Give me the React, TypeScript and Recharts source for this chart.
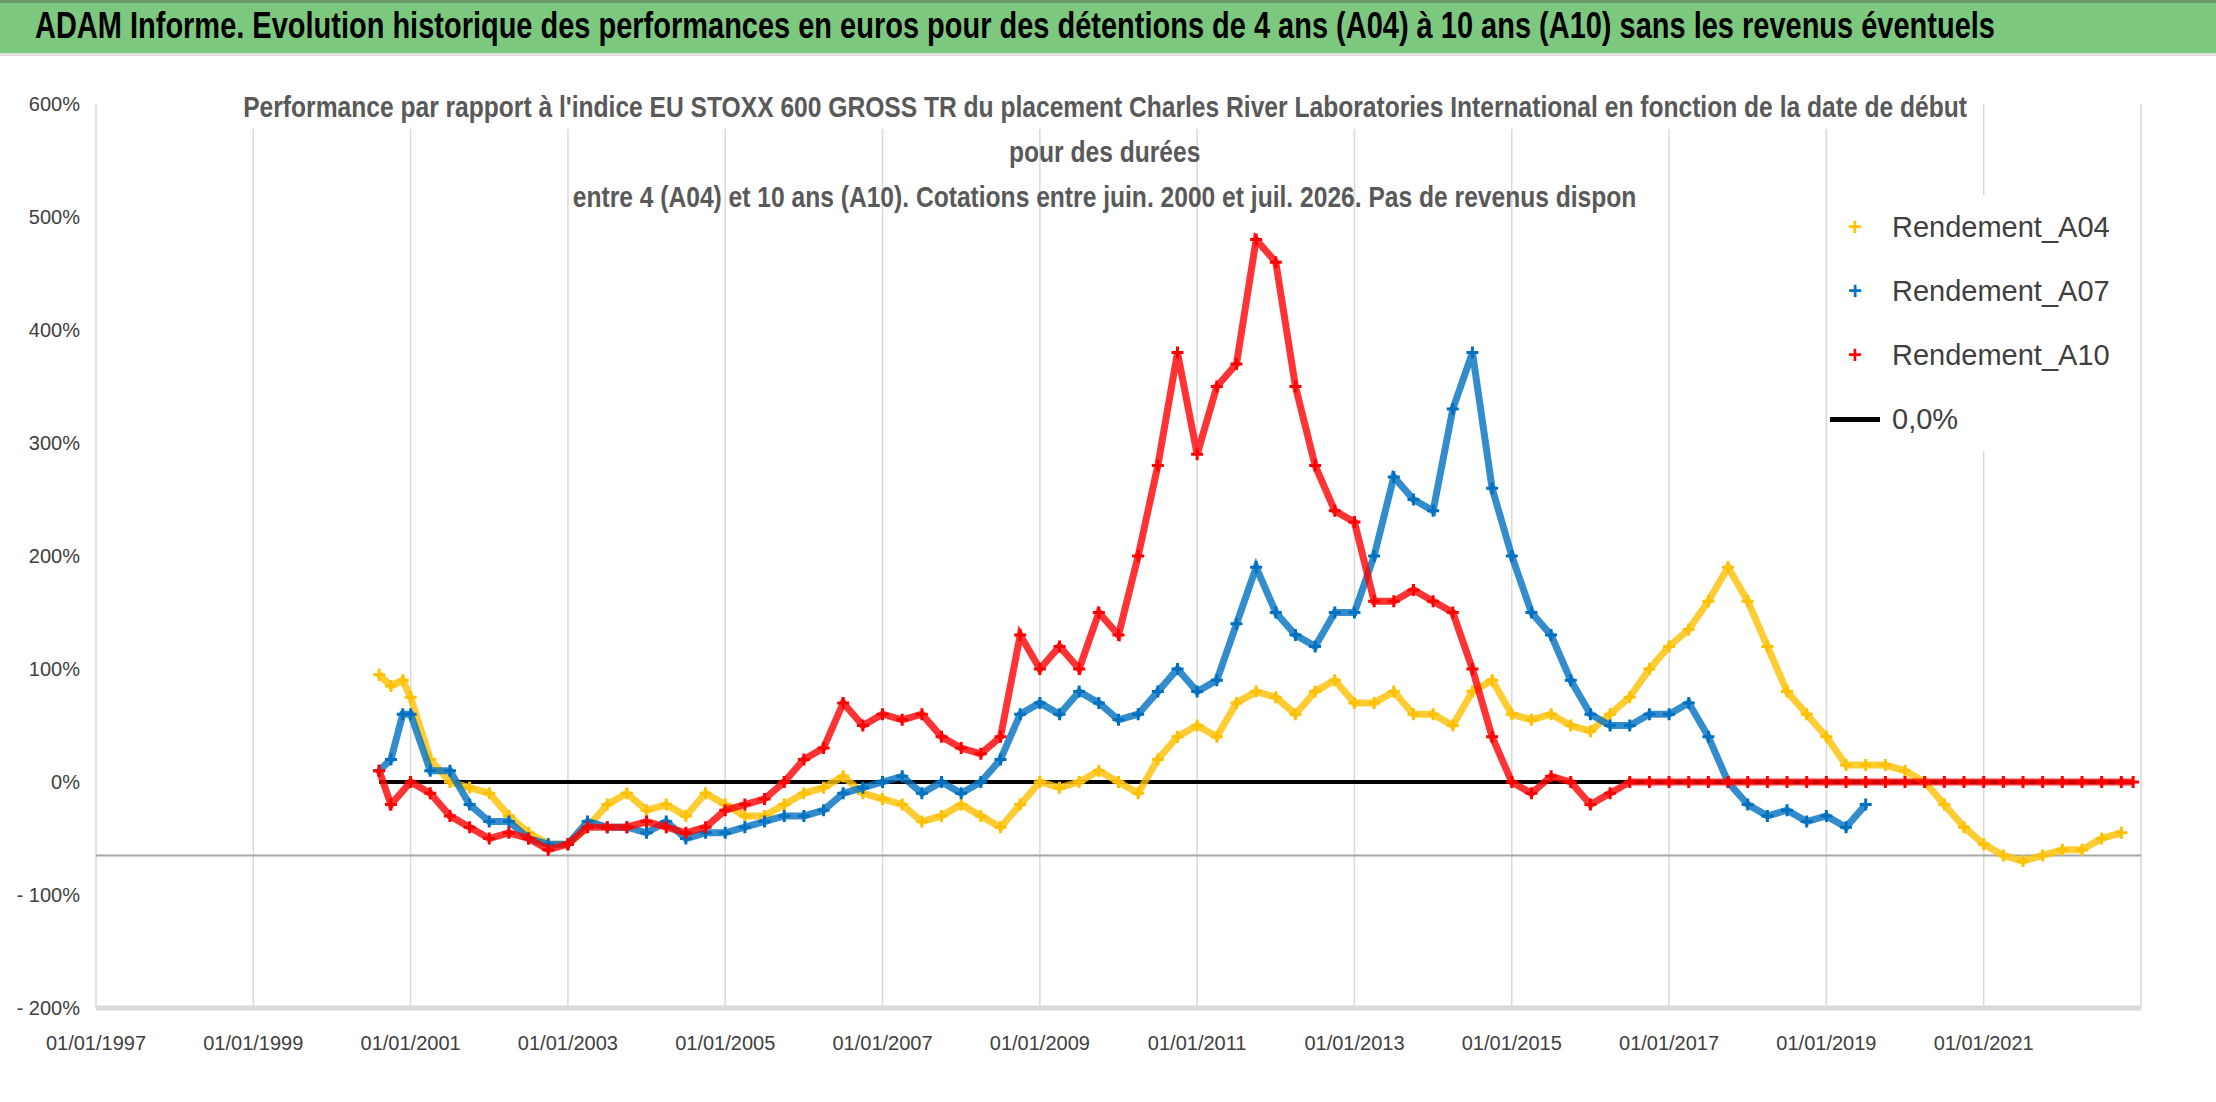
import { ComposedChart, Scatter, XAxis, YAxis, CartesianGrid, ReferenceLine } from 'recharts'

const yearTicks = [1997, 1999, 2001, 2003, 2005, 2007, 2009, 2011, 2013, 2015, 2017, 2019, 2021]
const pctTicks = [-200, -100, 0, 100, 200, 300, 400, 500, 600]

const datesA04 = [2000.6, 2000.75, 2000.9, 2001, 2001.25, 2001.5, 2001.75, 2002, 2002.25, 2002.5, 2002.75, 2003, 2003.25, 2003.5, 2003.75, 2004, 2004.25, 2004.5, 2004.75, 2005, 2005.25, 2005.5, 2005.75, 2006, 2006.25, 2006.5, 2006.75, 2007, 2007.25, 2007.5, 2007.75, 2008, 2008.25, 2008.5, 2008.75, 2009, 2009.25, 2009.5, 2009.75, 2010, 2010.25, 2010.5, 2010.75, 2011, 2011.25, 2011.5, 2011.75, 2012, 2012.25, 2012.5, 2012.75, 2013, 2013.25, 2013.5, 2013.75, 2014, 2014.25, 2014.5, 2014.75, 2015, 2015.25, 2015.5, 2015.75, 2016, 2016.25, 2016.5, 2016.75, 2017, 2017.25, 2017.5, 2017.75, 2018, 2018.25, 2018.5, 2018.75, 2019, 2019.25, 2019.5, 2019.75, 2020, 2020.25, 2020.5, 2020.75, 2021, 2021.25, 2021.5, 2021.75, 2022, 2022.25, 2022.5, 2022.75]
const rendA04 = [95, 85, 90, 75, 20, 0, -5, -10, -30, -45, -55, -55, -40, -20, -10, -25, -20, -30, -10, -20, -30, -30, -20, -10, -5, 5, -10, -15, -20, -35, -30, -20, -30, -40, -20, 0, -5, 0, 10, 0, -10, 20, 40, 50, 40, 70, 80, 75, 60, 80, 90, 70, 70, 80, 60, 60, 50, 80, 90, 60, 55, 60, 50, 45, 60, 75, 100, 120, 135, 160, 190, 160, 120, 80, 60, 40, 15, 15, 15, 10, 0, -20, -40, -55, -65, -70, -65, -60, -60, -50, -45]

const datesA07 = [2000.6, 2000.75, 2000.9, 2001, 2001.25, 2001.5, 2001.75, 2002, 2002.25, 2002.5, 2002.75, 2003, 2003.25, 2003.5, 2003.75, 2004, 2004.25, 2004.5, 2004.75, 2005, 2005.25, 2005.5, 2005.75, 2006, 2006.25, 2006.5, 2006.75, 2007, 2007.25, 2007.5, 2007.75, 2008, 2008.25, 2008.5, 2008.75, 2009, 2009.25, 2009.5, 2009.75, 2010, 2010.25, 2010.5, 2010.75, 2011, 2011.25, 2011.5, 2011.75, 2012, 2012.25, 2012.5, 2012.75, 2013, 2013.25, 2013.5, 2013.75, 2014, 2014.25, 2014.5, 2014.75, 2015, 2015.25, 2015.5, 2015.75, 2016, 2016.25, 2016.5, 2016.75, 2017, 2017.25, 2017.5, 2017.75, 2018, 2018.25, 2018.5, 2018.75, 2019, 2019.25, 2019.5]
const rendA07 = [10, 20, 60, 60, 10, 10, -20, -35, -35, -50, -55, -55, -35, -40, -40, -45, -35, -50, -45, -45, -40, -35, -30, -30, -25, -10, -5, 0, 5, -10, 0, -10, 0, 20, 60, 70, 60, 80, 70, 55, 60, 80, 100, 80, 90, 140, 190, 150, 130, 120, 150, 150, 200, 270, 250, 240, 330, 380, 260, 200, 150, 130, 90, 60, 50, 50, 60, 60, 70, 40, 0, -20, -30, -25, -35, -30, -40, -20]

const datesA10 = [2000.6, 2000.75, 2001, 2001.25, 2001.5, 2001.75, 2002, 2002.25, 2002.5, 2002.75, 2003, 2003.25, 2003.5, 2003.75, 2004, 2004.25, 2004.5, 2004.75, 2005, 2005.25, 2005.5, 2005.75, 2006, 2006.25, 2006.5, 2006.75, 2007, 2007.25, 2007.5, 2007.75, 2008, 2008.25, 2008.5, 2008.75, 2009, 2009.25, 2009.5, 2009.75, 2010, 2010.25, 2010.5, 2010.75, 2011, 2011.25, 2011.5, 2011.75, 2012, 2012.25, 2012.5, 2012.75, 2013, 2013.25, 2013.5, 2013.75, 2014, 2014.25, 2014.5, 2014.75, 2015, 2015.25, 2015.5, 2015.75, 2016, 2016.25, 2016.5, 2016.75, 2017, 2017.25, 2017.5, 2017.75, 2018, 2018.25, 2018.5, 2018.75, 2019, 2019.25, 2019.5, 2019.75, 2020, 2020.25, 2020.5, 2020.75, 2021, 2021.25, 2021.5, 2021.75, 2022, 2022.25, 2022.5, 2022.75, 2022.9]
const rendA10 = [10, -20, 0, -10, -30, -40, -50, -45, -50, -60, -55, -40, -40, -40, -35, -40, -45, -40, -25, -20, -15, 0, 20, 30, 70, 50, 60, 55, 60, 40, 30, 25, 40, 130, 100, 120, 100, 150, 130, 200, 280, 380, 290, 350, 370, 480, 460, 350, 280, 240, 230, 160, 160, 170, 160, 150, 100, 40, 0, -10, 5, 0, -20, -10, 0, 0, 0, 0, 0, 0, 0, 0, 0, 0, 0, 0, 0, 0, 0, 0, 0, 0, 0, 0, 0, 0, 0, 0, 0, 0, 0]

const build = (xs: number[], ys: number[]) => xs.map((x, i) => ({ x, y: ys[i] }))

const series = [
  { name: 'Rendement_A04', color: '#FFC000', data: build(datesA04, rendA04) },
  { name: 'Rendement_A07', color: '#0070C0', data: build(datesA07, rendA07) },
  { name: 'Rendement_A10', color: '#FF0000', data: build(datesA10, rendA10) },
]

const FONT = '"Liberation Sans", Arial, sans-serif'

const cross = (color: string) => (p: any) => (
  <path
    d={`M${p.cx - 6},${p.cy}h12M${p.cx},${p.cy - 6}v12`}
    stroke={color}
    strokeWidth={3}
  />
)

const fmtPct = (v: number) => (v < 0 ? `- ${-v}%` : `${v}%`)

const squeeze = { display: 'inline-block', transform: 'scaleX(0.82)' }

export default function App() {
  return (
    <div style={{ position: 'fixed', left: 0, top: 0, width: 2216, height: 1102, background: '#fff', fontFamily: FONT }}>
      <div
        style={{
          position: 'absolute', left: 0, top: 0, width: 2216, height: 56,
          background: '#7dc87f', borderTop: '3px solid #6a9a6a', borderBottom: '3px solid #ddd',
          boxSizing: 'border-box',
        }}
      >
        <div style={{ position: 'absolute', left: 35, top: 2, fontSize: 36, fontWeight: 'bold', color: '#000', whiteSpace: 'nowrap', transform: 'scaleX(0.805)', transformOrigin: 'left top' }}>
          ADAM Informe. Evolution historique des performances en euros pour des détentions de 4 ans (A04) à 10 ans (A10) sans les revenus éventuels
        </div>
      </div>
      <ComposedChart
        width={2216}
        height={1102}
        margin={{ top: 104, right: 75, bottom: 64, left: 16 }}
        style={{ position: 'absolute', left: 0, top: 0 }}
      >
        <CartesianGrid horizontal={false} stroke="#d9d9d9" strokeWidth={1.5} />
        <XAxis
          dataKey="x"
          type="number"
          domain={[1997, 2023]}
          ticks={yearTicks}
          tickFormatter={(v) => `01/01/${v}`}
          axisLine={false}
          tickLine={false}
          tick={{ fill: '#404040', fontSize: 20, fontFamily: FONT }}
          tickMargin={22}
          allowDataOverflow
        />
        <YAxis
          dataKey="y"
          type="number"
          domain={[-200, 600]}
          ticks={pctTicks}
          tickFormatter={fmtPct}
          axisLine={false}
          tickLine={false}
          width={80}
          tick={{ fill: '#404040', fontSize: 20, fontFamily: FONT }}
          tickMargin={10}
        />
        <ReferenceLine y={-200} stroke="#d9d9d9" strokeWidth={5} />
        <ReferenceLine y={-65} stroke="#a6a6a6" strokeWidth={2} />
        <ReferenceLine segment={[{ x: 2000.6, y: 0 }, { x: 2022.9, y: 0 }]} stroke="#000" strokeWidth={4} />
        {series.map((s) => (
          <Scatter
            key={s.name}
            name={s.name}
            data={s.data}
            fill={s.color}
            line={{ stroke: s.color, strokeWidth: 7, strokeOpacity: 0.8 }}
            shape={cross(s.color)}
            isAnimationActive={false}
          />
        ))}
      </ComposedChart>
      <div style={{ position: 'absolute', left: 0, width: 2210, top: 84, textAlign: 'center', color: '#595959', fontSize: 30, fontWeight: 'bold', lineHeight: '45px', whiteSpace: 'nowrap' }}>
        <div><span style={{ ...squeeze, background: '#fff', padding: '0 10px' }}>Performance par rapport à l'indice EU STOXX 600 GROSS TR  du placement Charles River Laboratories International en fonction de la date de début</span></div>
        <div><span style={squeeze}>pour des durées</span></div>
        <div><span style={squeeze}>entre 4 (A04) et 10 ans (A10). Cotations entre juin. 2000 et juil. 2026. Pas de revenus dispon</span></div>
      </div>
      <div style={{ position: 'absolute', left: 1830, top: 195, fontSize: 29, color: '#404040', lineHeight: '64px', background: '#fff', paddingRight: 20 }}>
        {series.map((s) => (
          <div key={s.name} style={{ display: 'flex', alignItems: 'center' }}>
            <span style={{ color: s.color, fontSize: 24, fontWeight: 'bold', width: 50, textAlign: 'center' }}>+</span>
            <span style={{ marginLeft: 12 }}>{s.name}</span>
          </div>
        ))}
        <div style={{ display: 'flex', alignItems: 'center' }}>
          <span style={{ display: 'inline-block', width: 50, height: 5, background: '#000' }} />
          <span style={{ marginLeft: 12 }}>0,0%</span>
        </div>
      </div>
    </div>
  )
}
